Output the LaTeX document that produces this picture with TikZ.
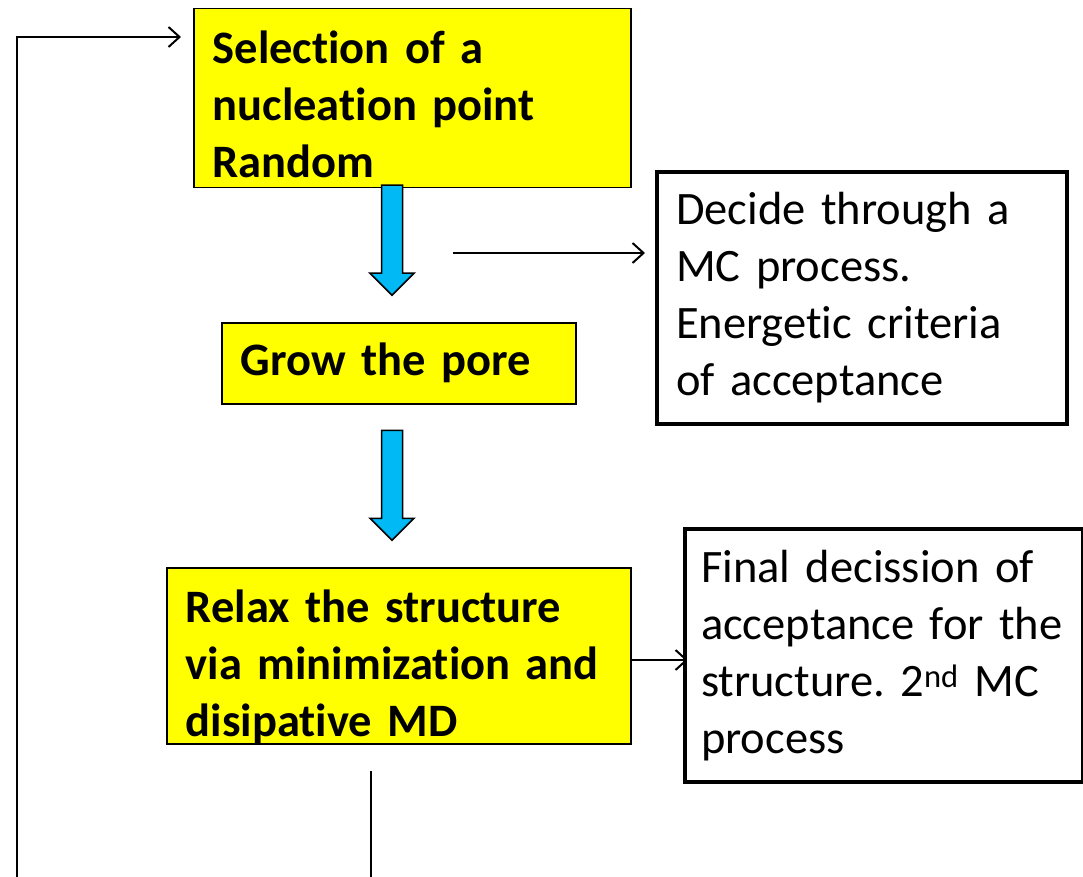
\documentclass[tikz,border=0pt]{standalone}
\usepackage{fontspec}
\setmainfont[Ligatures={NoCommon}]{Carlito}
\usetikzlibrary{arrows.meta,shapes.arrows,backgrounds}
\definecolor{stepyellow}{RGB}{255,255,0}
\definecolor{flowblue}{RGB}{0,185,245}
\begin{document}
\begin{tikzpicture}[x=1pt,y=-1pt,
	stepbox/.style={draw,line width=1.5pt,fill=stepyellow,font=\fontsize{46.5}{57}\selectfont\frenchspacing\bfseries,align=left,inner xsep=19pt,inner ysep=0pt,anchor=north west},
	notebox/.style={draw,line width=4pt,fill=white,font=\fontsize{46.5}{57}\selectfont\frenchspacing,align=left,inner xsep=19pt,inner ysep=0pt,anchor=north west},
	flowarrow/.style={single arrow,draw,line width=1.5pt,fill=flowblue,minimum width=43pt,minimum height=110pt,inner sep=9.75pt,single arrow head extend=11.5pt,shape border rotate=270},
	link/.style={line width=2pt,-{Straight Barb[length=11pt,width=20pt,line width=2pt]}}]
	\useasboundingbox (0,0) rectangle (1083,877);
	
	\node[stepbox,text width=399pt,minimum height=179pt] (select) at (193,8) {\rule{0pt}{45pt}Selection of a\\nucleation point\\Random};
	\node[notebox,text width=372pt,minimum height=252pt] (decide) at (655,170) {Decide through a\\MC process.\\Energetic criteria\\of acceptance};
	\node[stepbox,text width=316pt,minimum height=81pt] (grow) at (221,322) {Grow the pore};
	\node[stepbox,text width=426pt,minimum height=176pt] (relax) at (166,567) {\rule{0pt}{55pt}Relax the structure\\via minimization and\\disipative MD};
	\node[notebox,text width=366pt,inner xsep=16pt,minimum height=253pt] (final) at (683,527) {Final decission of\\\mbox{acceptance for the}\\structure. 2\textsuperscript{nd} MC\\process};
	
	\node[flowarrow] (flow1) at (392,235) {};
	\node[flowarrow] (flow2) at (392,480) {};
	
	\coordinate (mcstart) at (453,253);
	\coordinate (relaxout) at (630,660);
	\coordinate (relaxtail) at (371,771);
	\coordinate (relaxfoot) at (371,877);
	\coordinate (loopfoot) at (17,877);
	\coordinate (loopturn) at (17,37);
	
	\begin{scope}[on background layer]
	\draw[link,shorten >=10pt] (mcstart) -- (mcstart -| decide.west);
	\draw[link,shorten >=-5pt] (relaxout) -- (relaxout -| final.west);
	\draw[line width=2pt] (relaxtail) -- (relaxfoot);
	\draw[link,shorten >=12pt] (loopfoot) -- (loopturn) -- (loopturn -| select.west);
	\end{scope}
\end{tikzpicture}
\end{document}
